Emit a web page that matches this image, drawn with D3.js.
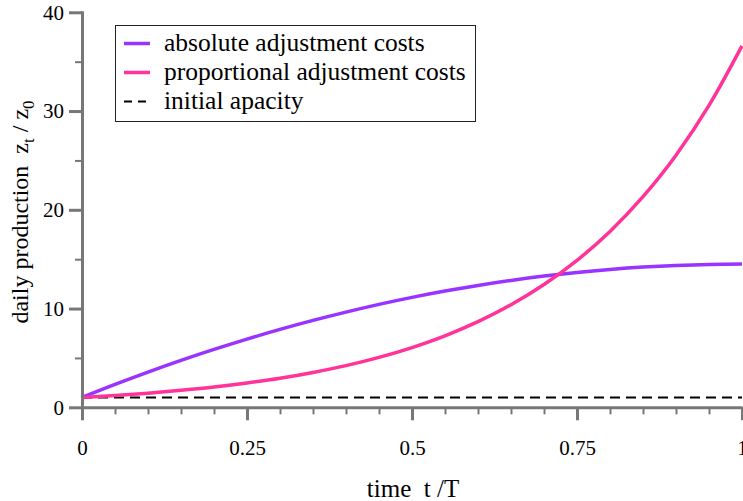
<!DOCTYPE html>
<html>
<head>
<meta charset="utf-8">
<script src="https://cdn.jsdelivr.net/npm/d3@7"></script>
<style>
  html, body { margin: 0; padding: 0; background: #fff; }
  svg { display: block; }
  text { font-family: "Liberation Serif", "DejaVu Serif", serif; fill: #000; }
</style>
</head>
<body>
<svg id="chart" width="743" height="501"></svg>
<script>
// ---- data ----
const timeValues = [0, 0.05, 0.1, 0.15, 0.2, 0.25, 0.3, 0.35, 0.4, 0.45, 0.5,
                    0.55, 0.6, 0.65, 0.7, 0.75, 0.8, 0.85, 0.9, 0.95, 1];
const absoluteCosts = [1, 2.32, 3.57, 4.75, 5.86, 6.91, 7.89, 8.8, 9.64, 10.42, 11.13,
                       11.77, 12.34, 12.85, 13.29, 13.66, 13.96, 14.2, 14.37, 14.47, 14.5];
const proportionalCosts = [1, 1.2, 1.43, 1.72, 2.05, 2.46, 2.94, 3.53, 4.22, 5.05, 6.05,
                           7.24, 8.67, 10.38, 12.43, 14.88, 17.81, 21.33, 25.53, 30.57, 36.6];
const initialTime = [0, 1];
const initialCapacity = [1, 1];

const xTickValues = [0, 0.25, 0.5, 0.75, 1];
const xTickLabels = ["0", "0.25", "0.5", "0.75", "1"];
const yTickValues = [0, 10, 20, 30, 40];
const yTickLabels = ["0", "10", "20", "30", "40"];
const xMinorTicks = [0.05, 0.1, 0.15, 0.2, 0.3, 0.35, 0.4, 0.45, 0.55, 0.6, 0.65, 0.7, 0.8, 0.85, 0.9, 0.95];
const yMinorTicks = [5, 15, 25, 35];

const legendLabels = ["absolute adjustment costs", "proportional adjustment costs", "initial apacity"];
const seriesColors = ["#9933ff", "#ff3399", "#000000"];

// ---- layout ----
const svg = d3.select("#chart");
const x = d3.scaleLinear().domain([0, 1]).range([82, 742]);
const y = d3.scaleLinear().domain([0, 40]).range([407.3, 12.3]);
const axisColor = "#777777";

// ---- curves ----
const line = d3.line()
  .x(d => x(d[0]))
  .y(d => y(d[1]))
  .curve(d3.curveMonotoneX);

const plot = svg.append("g");
plot.append("path")
  .datum(initialTime.map((t, i) => [t, initialCapacity[i]]))
  .attr("d", line)
  .attr("fill", "none")
  .attr("stroke", seriesColors[2])
  .attr("stroke-width", 2)
  .attr("stroke-dasharray", "10,6");

plot.append("path")
  .datum(timeValues.map((t, i) => [t, absoluteCosts[i]]))
  .attr("d", line)
  .attr("fill", "none")
  .attr("stroke", seriesColors[0])
  .attr("stroke-width", 3.5);

plot.append("path")
  .datum(timeValues.map((t, i) => [t, proportionalCosts[i]]))
  .attr("d", line)
  .attr("fill", "none")
  .attr("stroke", seriesColors[1])
  .attr("stroke-width", 3.5);

// ---- axes ----
function styleAxis(g, width) {
  g.selectAll(".domain").attr("stroke", axisColor).attr("stroke-width", 3);
  g.selectAll(".tick line").attr("stroke", axisColor).attr("stroke-width", width);
}

const xMinor = svg.append("g").attr("transform", `translate(0,${y(0)})`)
  .call(d3.axisBottom(x).tickValues(xMinorTicks).tickSize(7).tickSizeOuter(0).tickFormat(""));
styleAxis(xMinor, 2);
xMinor.select(".domain").remove();

const yMinor = svg.append("g").attr("transform", `translate(${x(0)},0)`)
  .call(d3.axisLeft(y).tickValues(yMinorTicks).tickSize(7).tickSizeOuter(0).tickFormat(""));
styleAxis(yMinor, 2);
yMinor.select(".domain").remove();

const xAxis = svg.append("g").attr("transform", `translate(0,${y(0)})`)
  .call(d3.axisBottom(x).tickValues(xTickValues).tickSize(13).tickSizeOuter(0)
    .tickPadding(20).tickFormat((d, i) => xTickLabels[i]));
styleAxis(xAxis, 3);
xAxis.selectAll(".tick text")
  .attr("font-family", "'Liberation Serif', serif")
  .attr("font-size", 21)
  .attr("fill", "#000");

const yAxis = svg.append("g").attr("transform", `translate(${x(0)},0)`)
  .call(d3.axisLeft(y).tickValues(yTickValues).tickSize(13).tickSizeOuter(0)
    .tickPadding(5).tickFormat((d, i) => yTickLabels[i]));
styleAxis(yAxis, 3);
yAxis.select(".domain").attr("stroke-linecap", "square");
yAxis.selectAll(".tick text")
  .attr("font-family", "'Liberation Serif', serif")
  .attr("font-size", 21)
  .attr("fill", "#000");

// ---- axis titles ----
svg.append("text")
  .attr("x", 413)
  .attr("y", 497)
  .attr("text-anchor", "middle")
  .attr("font-size", 25)
  .attr("xml:space", "preserve")
  .text("time  t /T");

const yTitle = svg.append("text")
  .attr("transform", "translate(28,212) rotate(-90)")
  .attr("text-anchor", "middle")
  .attr("font-size", 24)
  .attr("xml:space", "preserve");
yTitle.append("tspan").text("daily production  z");
yTitle.append("tspan").attr("font-size", 17).attr("dy", 6).text("t");
yTitle.append("tspan").attr("dy", -6).text(" / z");
yTitle.append("tspan").attr("font-size", 17).attr("dy", 6).text("0");

// ---- legend ----
const legend = svg.append("g");
legend.append("rect")
  .attr("x", 115.5).attr("y", 25.5)
  .attr("width", 360).attr("height", 96)
  .attr("fill", "#fff")
  .attr("stroke", "#222")
  .attr("stroke-width", 1);

const legendRowY = [43.5, 72.5, 101.5];
legendLabels.forEach((label, i) => {
  const ly = legendRowY[i];
  legend.append("line")
    .attr("x1", 124).attr("x2", 150)
    .attr("y1", ly).attr("y2", ly)
    .attr("stroke", seriesColors[i])
    .attr("stroke-width", i === 2 ? 2 : 3.5)
    .attr("stroke-dasharray", i === 2 ? "8,6" : null);
  legend.append("text")
    .attr("x", 164)
    .attr("y", ly + 7)
    .attr("font-size", 25.5)
    .text(label);
});
</script>
</body>
</html>
